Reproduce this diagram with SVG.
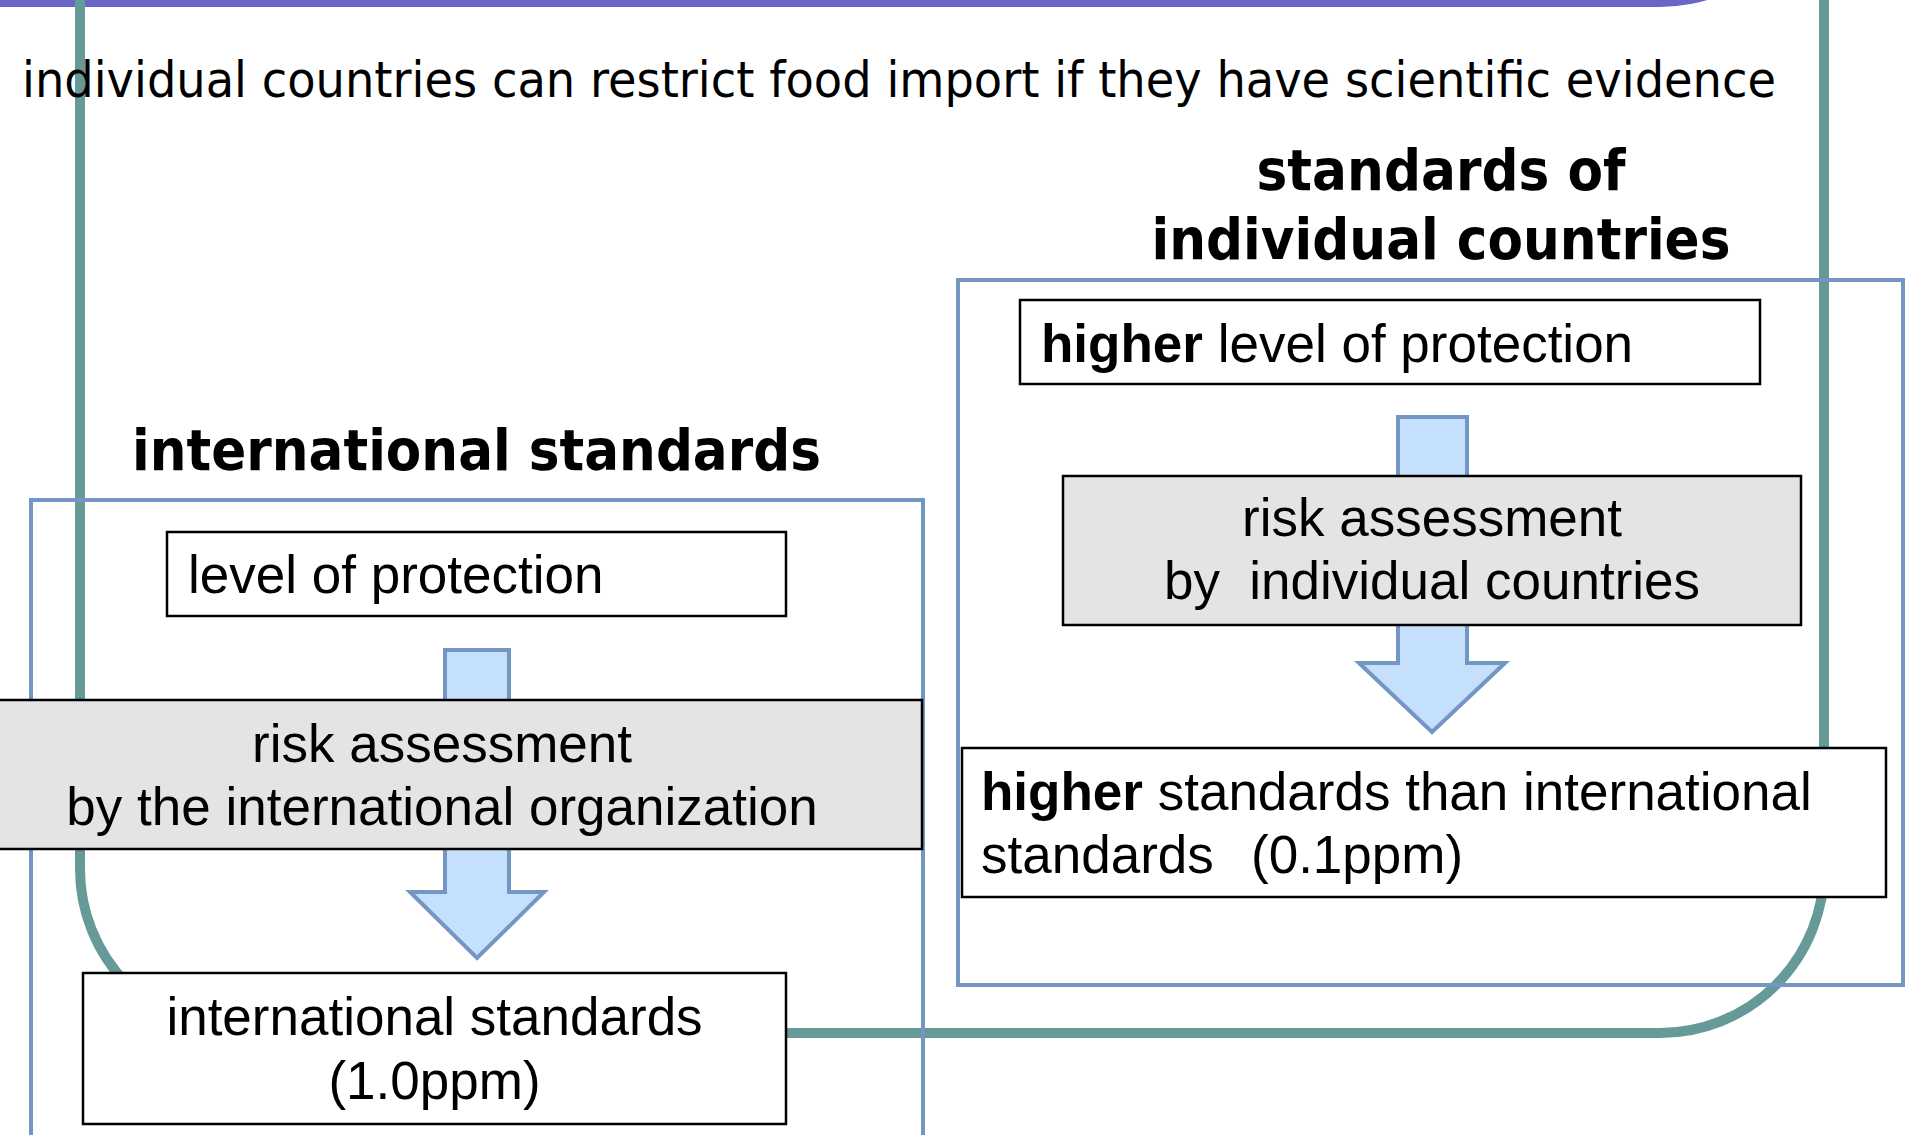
<svg xmlns="http://www.w3.org/2000/svg" width="1905" height="1135" viewBox="0 0 1905 1135">
<style>
.box{fill:#ffffff;stroke:#000000;stroke-width:2.5}
.risk{fill:#e4e4e4;stroke:#000000;stroke-width:2.5}
.frame{fill:none;stroke:#7396c2;stroke-width:4}
.arrow{fill:#c5e0fc;stroke:#7396c2;stroke-width:4;stroke-linejoin:miter}
.t{font-family:"Liberation Sans",Arial,sans-serif;font-size:53px;fill:#000000}
.b{font-weight:bold}
.head{font-family:"DejaVu Sans",Verdana,sans-serif;font-weight:bold;font-size:57px;fill:#000000}
.top{font-family:"DejaVu Sans",Verdana,sans-serif;font-size:49px;fill:#000000}
</style>
<rect x="0" y="0" width="1905" height="1135" fill="#ffffff"/>
<g id="title-band">
<path d="M-10,-200 H1824 V-157 A164,164 0 0 1 1660,7 H-10 Z" fill="#6a66c8"/>
</g>
<g id="wto-frame">
<path d="M80,-50 V869 A164,164 0 0 0 244,1033 H1660 A164,164 0 0 0 1824,869 V-50" fill="none" stroke="#669a99" stroke-width="10"/>
</g>
<g id="intl-frame">
<rect class="frame" x="31" y="500" width="892" height="700"/>
</g>
<g id="country-frame">
<rect class="frame" x="958" y="280" width="945" height="705"/>
</g>
<g id="caption">
<text class="top" x="22" y="97" textLength="1754" lengthAdjust="spacingAndGlyphs">individual countries can restrict food import if they have scientific evidence</text>
</g>
<g id="heading-country">
<text class="head" x="1441" y="190" text-anchor="middle" textLength="369" lengthAdjust="spacingAndGlyphs">standards of</text>
<text class="head" x="1441" y="259" text-anchor="middle" textLength="579" lengthAdjust="spacingAndGlyphs">individual countries</text>
</g>
<g id="heading-intl">
<text class="head" x="132" y="470" textLength="689" lengthAdjust="spacingAndGlyphs">international standards</text>
</g>
<g id="connectors">
<path class="arrow" d="M445,650 H509 V892 H544 L477,958 L410,892 H445 Z"/>
<path class="arrow" d="M1398,417 H1467 V663 H1505 L1432,732 L1359,663 H1398 Z"/>
</g>
<g id="intl-level">
<rect class="box" x="167" y="532" width="619" height="84"/>
<text class="t" x="188" y="593">level of protection</text>
</g>
<g id="intl-risk">
<rect class="risk" x="-40" y="700" width="962" height="149"/>
<text class="t" x="442" y="762" text-anchor="middle">risk assessment</text>
<text class="t" x="442" y="825" text-anchor="middle">by the international organization</text>
</g>
<g id="intl-standard">
<rect class="box" x="83" y="973" width="703" height="151"/>
<text class="t" x="434.5" y="1035" text-anchor="middle">international standards</text>
<text class="t" x="434.5" y="1099" text-anchor="middle">(1.0ppm)</text>
</g>
<g id="country-level">
<rect class="box" x="1020" y="300" width="740" height="84"/>
<text class="t" x="1041" y="362"><tspan class="b">higher</tspan> level of protection</text>
</g>
<g id="country-risk">
<rect class="risk" x="1063" y="476" width="738" height="149"/>
<text class="t" x="1432" y="536" text-anchor="middle">risk assessment</text>
<text class="t" x="1432" y="599" text-anchor="middle" xml:space="preserve">by  individual countries</text>
</g>
<g id="country-standard">
<rect class="box" x="962" y="748" width="924" height="149"/>
<text class="t" x="981" y="810"><tspan class="b">higher</tspan> standards than international</text>
<text class="t" x="981" y="873" xml:space="preserve">standards  <tspan x="1251">(0.1ppm)</tspan></text>
</g>
</svg>
